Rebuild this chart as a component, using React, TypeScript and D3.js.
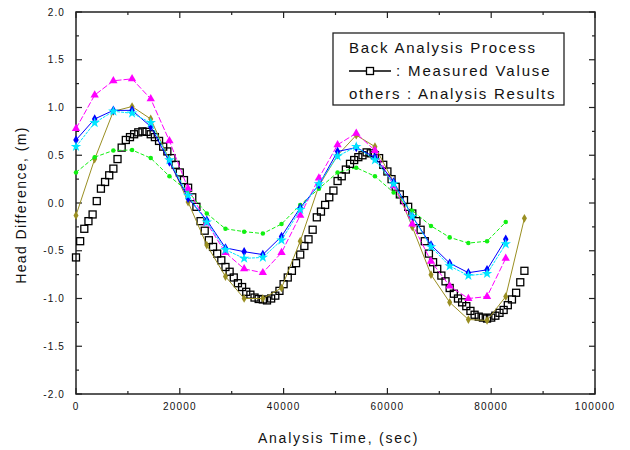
import React from "react";
import * as d3 from "d3";

const WIDTH = 630;
const HEIGHT = 450;
const margin = { top: 12, right: 35, bottom: 56, left: 76 };
const innerW = WIDTH - margin.left - margin.right;
const innerH = HEIGHT - margin.top - margin.bottom;

// measured values, one every 800 sec
const measuredStep = 800;
const measuredHead = [
  -0.57, -0.4, -0.27, -0.19, -0.12, 0.02, 0.15, 0.22, 0.29, 0.36,
  0.46, 0.58, 0.66, 0.69, 0.72, 0.74, 0.75, 0.745, 0.72, 0.69,
  0.65, 0.59, 0.54, 0.47, 0.4, 0.32, 0.24, 0.16, 0.06, -0.04,
  -0.19, -0.29, -0.39, -0.46, -0.53, -0.6, -0.67, -0.72, -0.78, -0.84,
  -0.88, -0.93, -0.96, -0.99, -1.005, -1.01, -1.02, -1.0, -0.97, -0.92,
  -0.85, -0.78, -0.71, -0.63, -0.54, -0.45, -0.38, -0.28, -0.15, -0.09,
  -0.02, 0.06, 0.13, 0.23, 0.28, 0.35, 0.41, 0.45, 0.48, 0.5,
  0.53, 0.52, 0.5, 0.47, 0.4, 0.33, 0.25, 0.17, 0.09, 0.03,
  -0.04, -0.11, -0.19, -0.28, -0.4, -0.53, -0.62, -0.69, -0.76, -0.82,
  -0.89, -0.95, -1.0, -1.04, -1.08, -1.13, -1.17, -1.19, -1.2, -1.21,
  -1.2, -1.18, -1.15, -1.12, -1.07, -1.01, -0.94, -0.83, -0.71,
];

// analysis results, hourly
const analysisTime = [
  0, 3600, 7200, 10800, 14400, 18000, 21600, 25200, 28800, 32400, 36000, 39600,
  43200, 46800, 50400, 54000, 57600, 61200, 64800, 68400, 72000, 75600, 79200, 82800,
];
const oliveTime = [...analysisTime, 86400];

const magentaHead = [0.78, 1.13, 1.28, 1.3, 1.09, 0.65, 0.15, -0.21, -0.52, -0.69, -0.73, -0.52, -0.13, 0.26, 0.61, 0.73, 0.55, 0.18, -0.22, -0.61, -0.87, -1.0, -0.98, -0.58];
const blueHead = [0.66, 0.88, 0.97, 0.97, 0.8, 0.43, 0.05, -0.18, -0.47, -0.51, -0.54, -0.35, -0.05, 0.19, 0.54, 0.58, 0.48, 0.22, -0.14, -0.44, -0.63, -0.73, -0.7, -0.38];
const cyanHead = [0.59, 0.84, 0.96, 0.94, 0.84, 0.45, 0.08, -0.2, -0.49, -0.58, -0.57, -0.39, -0.07, 0.2, 0.49, 0.59, 0.45, 0.2, -0.14, -0.46, -0.66, -0.76, -0.74, -0.43];
const greenHead = [0.32, 0.48, 0.55, 0.555, 0.47, 0.28, 0.12, -0.11, -0.27, -0.3, -0.32, -0.22, -0.02, 0.15, 0.32, 0.37, 0.28, 0.11, -0.08, -0.24, -0.36, -0.42, -0.4, -0.2];
const oliveHead = [-0.13, 0.46, 0.96, 1.01, 0.88, 0.45, 0.01, -0.44, -0.77, -1.0, -1.0, -0.89, -0.4, 0.18, 0.5, 0.71, 0.59, 0.22, -0.25, -0.75, -1.04, -1.22, -1.23, -0.98, -0.16];

const legendLines = ["Back Analysis Process", ": Measured Valuse", "others : Analysis Results"];

const font = "'Liberation Sans', Arial, sans-serif";

export default function App() {
  const x = d3.scaleLinear().domain([0, 100000]).range([0, innerW]);
  const y = d3.scaleLinear().domain([-2, 2]).range([innerH, 0]);
  const line = d3.line<[number, number]>().x((d) => x(d[0])).y((d) => y(d[1]));

  const series = [
    { time: oliveTime, head: oliveHead, color: "#9a8f22", symbol: d3.symbolDiamond, size: 22, dash: "none" },
    { time: analysisTime, head: greenHead, color: "#11f011", symbol: d3.symbolCircle, size: 16, dash: "4,2" },
    { time: analysisTime, head: magentaHead, color: "#ff00ff", symbol: d3.symbolTriangle, size: 30, dash: "6,2" },
    { time: analysisTime, head: blueHead, color: "#0000ff", symbol: d3.symbolDiamond, size: 26, dash: "none" },
    { time: analysisTime, head: cyanHead, color: "#00e5ff", symbol: d3.symbolStar, size: 34, dash: "3,1" },
  ];

  const xTicks = x.ticks(10);
  const yTicks = d3.range(-2, 2.0001, 0.25);
  const isMajorY = (v: number) => Math.abs(v * 2 - Math.round(v * 2)) < 1e-6;

  const measured = measuredHead.map((v, i) => [i * measuredStep, v] as [number, number]);
  const sq = 7;

  return (
    <svg width={WIDTH} height={HEIGHT} style={{ position: "absolute", left: 0, top: 0, background: "#fff" }}>
      <g transform={`translate(${margin.left}, ${margin.top})`} fontFamily={font}>
        {/* frame */}
        <rect x={0} y={0} width={innerW} height={innerH} fill="none" stroke="#222" strokeWidth={1.5} />

        {/* x ticks */}
        {xTicks.map((t) => {
          const major = t % 20000 === 0;
          const len = major ? 6 : 3;
          return (
            <g key={`x${t}`}>
              <line x1={x(t)} x2={x(t)} y1={innerH} y2={innerH - len} stroke="#222" strokeWidth={1.2} />
              <line x1={x(t)} x2={x(t)} y1={0} y2={len} stroke="#222" strokeWidth={1.2} />
              {major && (
                <text x={x(t)} y={innerH + 16} fontSize={10} textAnchor="middle" letterSpacing={1.2} fill="#111">
                  {t}
                </text>
              )}
            </g>
          );
        })}

        {/* y ticks */}
        {yTicks.map((v) => {
          const major = isMajorY(v);
          const len = major ? 6 : 3;
          return (
            <g key={`y${v}`}>
              <line x1={0} x2={len} y1={y(v)} y2={y(v)} stroke="#222" strokeWidth={1.2} />
              <line x1={innerW} x2={innerW - len} y1={y(v)} y2={y(v)} stroke="#222" strokeWidth={1.2} />
              {major && (
                <text x={-11} y={y(v) + 3.5} fontSize={10} textAnchor="end" letterSpacing={1.1} fill="#111">
                  {v.toFixed(1)}
                </text>
              )}
            </g>
          );
        })}

        {/* axis titles */}
        <text x={innerW / 2 + 3} y={innerH + 49} fontSize={14} textAnchor="middle" letterSpacing={1.8} fill="#111">
          Analysis Time, (sec)
        </text>
        <text
          transform={`translate(${-50}, ${innerH / 2 + 2}) rotate(-90)`}
          fontSize={14}
          textAnchor="middle"
          letterSpacing={1.4}
          fill="#111"
        >
          Head Difference, (m)
        </text>

        {/* measured values */}
        <g>
          {measured.map((d, i) => (
            <rect
              key={`m${i}`}
              x={x(d[0]) - sq / 2}
              y={y(d[1]) - sq / 2}
              width={sq}
              height={sq}
              fill="none"
              stroke="#000"
              strokeWidth={1.3}
            />
          ))}
        </g>

        {/* analysis results */}
        {series.map((s, si) => {
          const pts = s.time.map((t, i) => [t, s.head[i]] as [number, number]);
          const sym = d3.symbol().type(s.symbol).size(s.size)();
          return (
            <g key={`s${si}`}>
              <path d={line(pts) ?? ""} fill="none" stroke={s.color} strokeWidth={1} strokeDasharray={s.dash} />
              {pts.map((p, i) => (
                <path key={i} d={sym ?? ""} transform={`translate(${x(p[0])}, ${y(p[1])})`} fill={s.color} />
              ))}
            </g>
          );
        })}

        {/* legend */}
        <g transform={`translate(${333 - margin.left}, ${33 - margin.top})`}>
          <rect x={0} y={0} width={231} height={72} fill="#fff" stroke="#222" strokeWidth={1.3} />
          <text x={16} y={20} fontSize={15} letterSpacing={1.75} fill="#111">{legendLines[0]}</text>
          <line x1={16} x2={58} y1={38} y2={38} stroke="#000" strokeWidth={1.3} />
          <rect x={37 - 3.5} y={38 - 3.5} width={7} height={7} fill="#fff" stroke="#000" strokeWidth={1.3} />
          <text x={63} y={43} fontSize={15} letterSpacing={1.85} fill="#111">{legendLines[1]}</text>
          <text x={16} y={66} fontSize={15} letterSpacing={1.75} fill="#111">{legendLines[2]}</text>
        </g>
      </g>
    </svg>
  );
}
